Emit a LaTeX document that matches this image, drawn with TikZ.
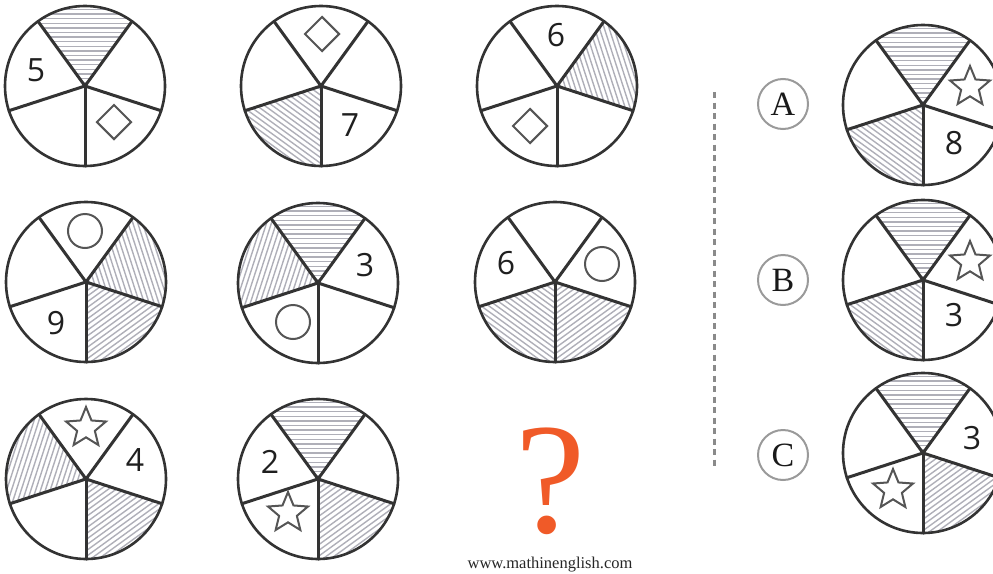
\documentclass[tikz,border=0pt]{standalone}
\usepackage{fontspec}
\setmainfont{Liberation Serif}
\newfontfamily\digitfont{Open Sans}
\usetikzlibrary{shapes.geometric}
\definecolor{wheelc}{HTML}{333333}
\definecolor{hatchc}{HTML}{AFAFB8}
\definecolor{shapec}{HTML}{555555}
\definecolor{qmarkc}{HTML}{F05A28}
\definecolor{optc}{HTML}{9A9A9A}
\definecolor{dashc}{HTML}{8A8A8A}
\tikzset{
  rim/.style={draw=wheelc, line width=2.6pt},
  spoke/.style={draw=wheelc, line width=3pt, line cap=round},
  hatchline/.style={draw=hatchc, line width=1.4pt},
  shapeline/.style={draw=shapec, line width=2pt},
  digit/.style={font=\digitfont\fontsize{32}{34}\selectfont, text=black!88, inner sep=0pt},
  starshape/.style={star, star points=5, star point ratio=2.25, minimum size=42pt, inner sep=0pt, draw=shapec, line width=2pt},
  ringshape/.style={circle, minimum size=34pt, inner sep=0pt, draw=shapec, line width=2pt},
  diamondshape/.style={diamond, minimum size=35pt, inner sep=0pt, draw=shapec, line width=2pt},
  optlabel/.style={circle, minimum size=50pt, inner sep=0pt, draw=optc, line width=2pt, font=\fontsize{34}{36}\selectfont, text=black!90},
  dashline/.style={draw=dashc, line width=3pt, dash pattern=on 6pt off 4.5pt},
}
\newcommand\hatchsec[2]{%
  \begin{scope}[shift={(#1)}, rotate=#2-90]
    \clip (0,0) -- (54:80) arc[start angle=54, end angle=126, radius=80] -- cycle;
    \foreach \i in {3,7.6,...,82} \draw[hatchline] (-60,\i) -- (60,\i);
  \end{scope}}
\newcommand\wheelrim[1]{%
  \foreach \a in {-90,-18,54,126,198} \draw[spoke] (#1) -- ++(\a:80);
  \draw[rim] (#1) circle[radius=80];}
\begin{document}
\begin{tikzpicture}[x=1pt, y=1pt]
\useasboundingbox (0,0) rectangle (993,-573);
% centres
\coordinate (w1) at (85,-86);
\coordinate (w2) at (321,-86);
\coordinate (w3) at (557,-86);
\coordinate (w4) at (86,-282);
\coordinate (w5) at (318,-283);
\coordinate (w6) at (555,-282);
\coordinate (w7) at (86,-479);
\coordinate (w8) at (318,-479);
\coordinate (wa) at (923,-105);
\coordinate (wb) at (923,-280);
\coordinate (wc) at (923,-453);
% hatches
\hatchsec{w1}{90}
\hatchsec{w2}{234}
\hatchsec{w3}{18}
\hatchsec{w4}{18}\hatchsec{w4}{-54}
\hatchsec{w5}{90}\hatchsec{w5}{162}
\hatchsec{w6}{234}\hatchsec{w6}{-54}
\hatchsec{w7}{162}\hatchsec{w7}{-54}
\hatchsec{w8}{90}\hatchsec{w8}{-54}
\hatchsec{wa}{90}\hatchsec{wa}{234}
\hatchsec{wb}{90}\hatchsec{wb}{234}
\hatchsec{wc}{90}\hatchsec{wc}{-54}
% rims and spokes
\foreach \w in {w1,w2,w3,w4,w5,w6,w7,w8,wa,wb,wc} {\wheelrim{\w}}
% contents
\node[diamondshape] (d1) at (114,-122) {};
\node[digit] (n1) at (36,-70) {5};
\node[diamondshape] (d2) at (322,-34) {};
\node[digit] (n2) at (350,-125) {7};
\node[digit] (n3) at (556,-35) {6};
\node[diamondshape] (d3) at (530,-126) {};
\node[ringshape] (r4) at (85,-231) {};
\node[digit] (n4) at (56,-323) {9};
\node[digit] (n5) at (365,-265) {3};
\node[ringshape] (r5) at (293,-322) {};
\node[digit] (n6) at (506,-263) {6};
\node[ringshape] (r6) at (602,-264) {};
\node[starshape] (s7) at (86,-428) {};
\node[digit] (n7) at (135,-460) {4};
\node[digit] (n8) at (270,-462) {2};
\node[starshape] (s8) at (288,-513) {};
\node[starshape] (sa) at (970,-87) {};
\node[digit] (na) at (954,-143) {8};
\node[starshape] (sb) at (970,-262) {};
\node[digit] (nb) at (954,-315) {3};
\node[digit] (nc) at (972,-438) {3};
\node[starshape] (sc) at (893,-490) {};
% question mark and credit
\node[text=qmarkc, font=\fontsize{158}{160}\selectfont, inner sep=0pt] (q) at (551,-481) {?};
\node[font=\fontsize{16.5}{18}\selectfont, text=black!85, inner sep=0pt] (web) at (550,-565) {www.mathinenglish.com};
% divider
\coordinate (dtop) at (714,-92);
\coordinate (dbot) at (714,-466);
\draw[dashline] (dtop) -- (dbot);
% option labels
\node[optlabel] (la) at (783,-104) {A};
\node[optlabel] (lb) at (783,-280) {B};
\node[optlabel] (lc) at (783,-455) {C};
\end{tikzpicture}
\end{document}
